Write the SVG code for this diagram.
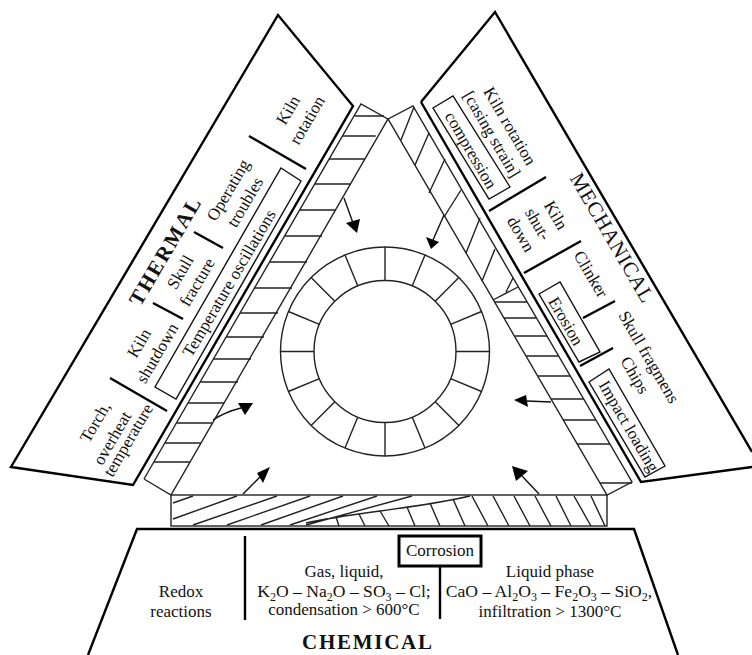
<svg xmlns="http://www.w3.org/2000/svg" width="752" height="655" viewBox="0 0 752 655">
<style>
.t{font-family:"Liberation Serif","Times New Roman",serif;font-size:17px;fill:#111;text-anchor:middle}
.w{font-size:17.6px}
.b{font-weight:bold;font-size:21px}
.m{font-size:21px}
.sub{font-size:12px;baseline-shift:-4px}
.k{fill:none;stroke:#000;stroke-width:2.4}
.l{fill:none;stroke:#111;stroke-width:1.4}
.h{fill:none;stroke:#222;stroke-width:1.4}
.a{fill:#000;stroke:none}
</style>
<defs><line id="s" x1="0" y1="-71" x2="0" y2="-104.5" class="h"/></defs>
<rect width="752" height="655" fill="#fff"/>
<g id="thermal">
<polygon class="k" points="11,467 133,485 353,106 278,15"/>
<path class="k" d="M110,378L167,411M153,303L183,319M194,232L223,248M249,136L306,169"/>
<polygon class="l" points="281,168 301,181 176,399 155,387"/>
<text class="t" transform="translate(293,113) rotate(-59.5)">Kiln</text>
<text class="t" transform="translate(312,123) rotate(-59.5)">rotation</text>
<text class="t" transform="translate(233,193) rotate(-59.5)">Operating</text>
<text class="t" transform="translate(250,205) rotate(-59.5)">troubles</text>
<text class="t b" textLength="121" transform="translate(171,255) rotate(-59.5)">THERMAL</text>
<text class="t" transform="translate(185,275) rotate(-59.5)">Skull</text>
<text class="t" transform="translate(202,285) rotate(-59.5)">fracture</text>
<text class="t" transform="translate(144,346) rotate(-59.5)">Kiln</text>
<text class="t" transform="translate(162,356) rotate(-59.5)">shutdown</text>
<text class="t" transform="translate(234,286) rotate(-59.5)">Temperature oscillations</text>
<text class="t" transform="translate(100,425) rotate(-59.5)">Torch,</text>
<text class="t" transform="translate(117,441) rotate(-59.5)">overheat</text>
<text class="t" transform="translate(133,443) rotate(-59.5)">temperature</text>
</g>
<g id="mechanical">
<path class="k" d="M421,102L495,12L752,452M421,102L641,482L752,467"/>
<path class="k" d="M489,211L546,177M524,273L581,241M583,318L615,301M580,366L613,348"/>
<polygon class="l" points="433,108 453,96 510,187 489,199"/>
<polygon class="l" points="539,294 560,282 600,352 579,362"/>
<polygon class="l" points="589,382 609,369 665,466 645,477"/>
<text class="t" transform="translate(505,129) rotate(59.7)">Kiln rotation</text>
<text class="t" transform="translate(487,137) rotate(59.7)">[casing strain]</text>
<text class="t" transform="translate(466,153) rotate(59.7)">compression</text>
<text class="t" transform="translate(551,218) rotate(59.7)">Kiln</text>
<text class="t" transform="translate(533,227) rotate(59.7)">shut-</text>
<text class="t" transform="translate(516,237) rotate(59.7)">down</text>
<text class="t" transform="translate(586,277) rotate(59.7)">Clinker</text>
<text class="t m" textLength="146" transform="translate(606,241) rotate(59.7)">MECHANICAL</text>
<text class="t" transform="translate(561,324) rotate(59.7)">Erosion</text>
<text class="t" transform="translate(644,360) rotate(59.7)">Skull fragmens</text>
<text class="t" transform="translate(630,378) rotate(59.7)">Chips</text>
<text class="t" transform="translate(624,429) rotate(59.7)">Impact loading</text>
</g>
<g id="chemical">
<path class="k" d="M88,655L137,529H634L678,655"/>
<path class="k" d="M245,536V620M440,567V619"/>
<text class="t" x="181" y="597">Redox</text>
<text class="t" x="181" y="617">reactions</text>
<text class="t" x="344" y="577">Gas, liquid,</text>
<text class="t w" x="344" y="597">K<tspan class="sub">2</tspan>O – Na<tspan class="sub">2</tspan>O – SO<tspan class="sub">3</tspan> – Cl;</text>
<text class="t" x="344" y="615">condensation &gt; 600°C</text>
<text class="t" x="550" y="577">Liquid phase</text>
<text class="t w" x="549" y="597">CaO – Al<tspan class="sub">2</tspan>O<tspan class="sub">3</tspan> – Fe<tspan class="sub">2</tspan>O<tspan class="sub">3</tspan> – SiO<tspan class="sub">2</tspan>,</text>
<text class="t" x="550" y="617">infiltration &gt; 1300°C</text>
<text class="t b" textLength="130" x="367" y="649">CHEMICAL</text>
</g>
<g id="corrosion">
<rect x="399" y="536" width="82" height="30" fill="#fff" stroke="#000" stroke-width="3"/>
<text class="t" x="440" y="556">Corrosion</text>
</g>
<g id="ring">
<circle cx="385" cy="351.5" r="104.5" class="h"/>
<circle cx="385" cy="351.5" r="71" class="h"/>
<g transform="translate(385 351.5)">
<use href="#s"/><use href="#s" transform="rotate(22.5)"/><use href="#s" transform="rotate(45)"/><use href="#s" transform="rotate(67.5)"/><use href="#s" transform="rotate(90)"/><use href="#s" transform="rotate(112.5)"/><use href="#s" transform="rotate(135)"/><use href="#s" transform="rotate(157.5)"/><use href="#s" transform="rotate(180)"/><use href="#s" transform="rotate(202.5)"/><use href="#s" transform="rotate(225)"/><use href="#s" transform="rotate(247.5)"/><use href="#s" transform="rotate(270)"/><use href="#s" transform="rotate(292.5)"/><use href="#s" transform="rotate(315)"/><use href="#s" transform="rotate(337.5)"/>
</g>
</g>
<g id="lining">
<path class="h" d="M144,479L361,104L388,119L413,106L632,482L607,495L388,119L171,495L144,479"/>
<rect x="171" y="495" width="436" height="31" class="h"/>
<path class="h" d="M355,116H384M342.500,136H375.700M329,159H365M315,184H351M300,210H336M285,236H322M270,262H307M255,288H292M240,313H278M226,337H264M213,359H251M200,382H238M188,403H224M177,423H212M165,443H201M154,462H190"/>
<path class="h" d="M401,140L414,107M415,165L429,133M429,193L445,159M444,217L461,190M466,253L480,218M482,281L495,249M493,300L518,287M506,292L513,278"/>
<path class="h" d="M495,302H527M504,318H536M515,336H547M526,356H559M538,376H570M551,399H584M563,420H596M577,444H610M600,483H632"/>
<path class="h" d="M173,503L193,496M173,519L237,496M193,525L277,496M227,525L310,496M261,525L343,496M290,525L377,496M306,525L412,496M306,523C350,513 420,508 470,496"/>
<path class="h" d="M336,517L339,526M359,514L365,526M380,511L389,526M407,507L415,526M430,503L440,526M453,499L465,526M472,496L488,526M493,496L509,526M514,496L530,526M535,496L551,526M556,496L571,526M574,496L591,526M591,496L605,526"/>
</g>
<g id="connectors">
<path class="l" d="M344,198L353,223"/><polygon class="a" points="357,233 346,223 360,219"/>
<path class="l" d="M213,420Q225,412 241,408"/><polygon class="a" points="253,403 238,403 245,415"/>
<path class="l" d="M243,494L260,477"/><polygon class="a" points="270,467 257,473 263,483"/>
<path class="l" d="M444,215L433,240"/><polygon class="a" points="431,249 426,237 439,242"/>
<path class="l" d="M551,402L527,401"/><polygon class="a" points="514,400 526,395 528,407"/>
<path class="l" d="M539,494L522,476"/><polygon class="a" points="512,466 528,471 516,481"/>
</g>
</svg>
